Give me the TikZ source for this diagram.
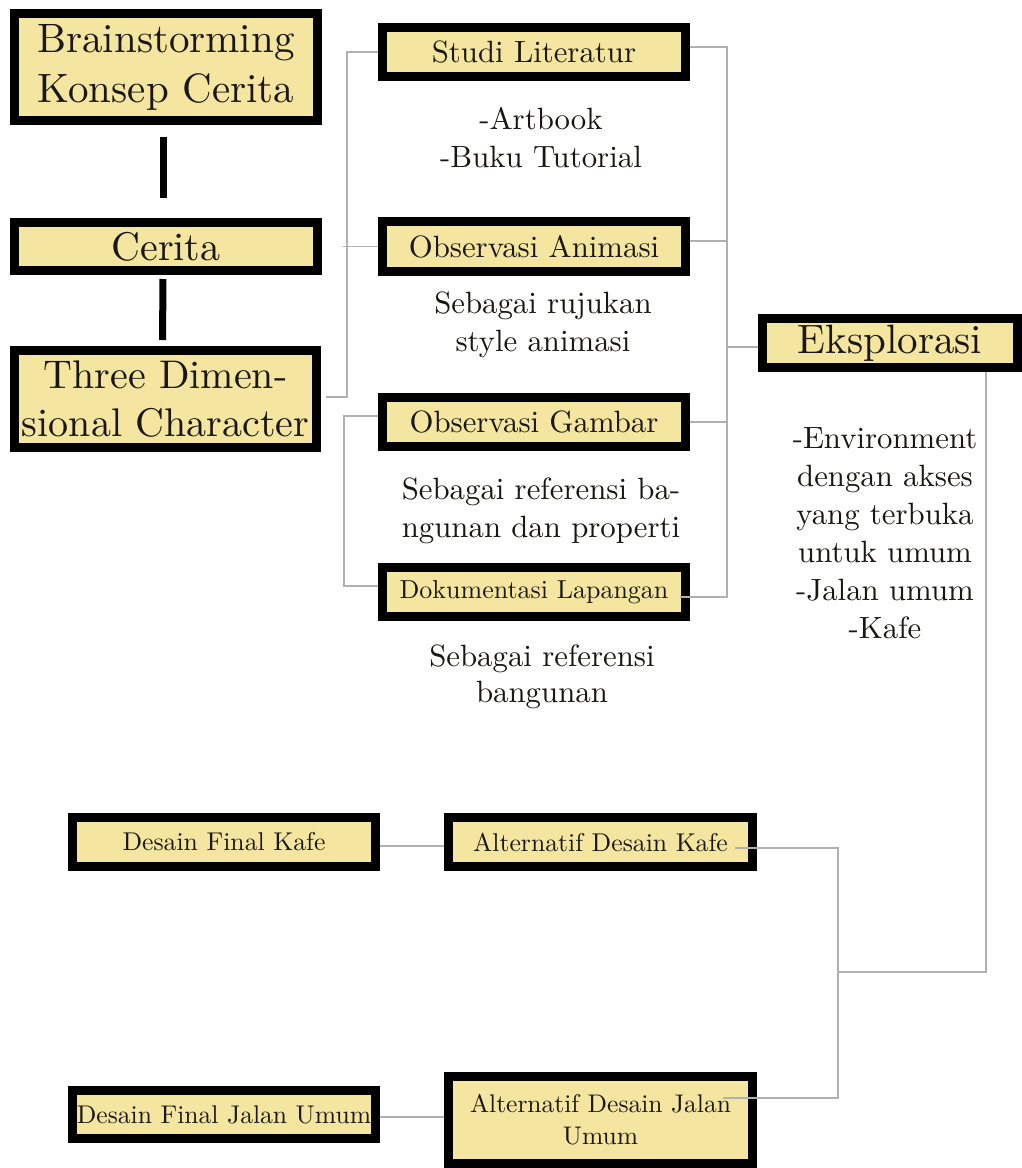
\documentclass[tikz,border=0pt]{standalone}
\usepackage{fontspec}
\setmainfont{lmroman10-regular.otf}
\usetikzlibrary{calc}
\definecolor{boxyellow}{HTML}{F4E6A0}
\definecolor{ink}{HTML}{1A1712}
\definecolor{linegray}{HTML}{B0B0B0}
\newcommand{\bigf}{\fontsize{40}{50}\selectfont}
\newcommand{\midf}{\fontsize{30.8}{38}\selectfont}
\newcommand{\smlf}{\fontsize{25.7}{32}\selectfont}
\tikzset{
  box/.style={draw=black, line width=9pt, fill=boxyellow, text=ink, inner sep=0pt,
              align=center, minimum width=303pt},
  conn/.style={draw=linegray, line width=1.1pt},
  bar/.style={draw=black, line width=7pt},
  note/.style={text=ink, align=center, inner sep=0pt, font=\midf}
}
\begin{document}
\begin{tikzpicture}[x=1pt,y=-1pt]
\useasboundingbox (0,0) rectangle (1022,1168);
\fill[white] (0,0) rectangle (1022,1168);

% left column
\node[box, minimum height=107pt, font=\fontsize{41}{50}\selectfont] (brain) at (166,67) {Brainstorming\\Konsep Cerita};
\node[box, minimum height=48pt, font=\bigf] (cerita) at (166,246.5) {Cerita};
\node[box, minimum width=302pt, minimum height=97pt, font=\fontsize{40}{48}\selectfont] (three) at (165.5,399) {Three Dimen-\\sional Character};

% middle column
\node[box, minimum height=49pt, font=\midf] (studi) at (534,52) {Studi Literatur};
\node[box, minimum height=50pt, font=\midf] (anim) at (534,246.5) {Observasi Animasi};
\node[box, minimum height=49pt, font=\midf] (gamb) at (534,422) {Observasi Gambar};
\node[box, minimum height=49pt, font=\fontsize{26}{32}\selectfont] (doku) at (534,592) {Dokumentasi Lapangan};

% notes
\node[note] (n1) at (541,138) {-Artbook\\-Buku Tutorial};
\node[note] (n2) at (543,325) {Sebagai rujukan\\style animasi};
\node[note] (n3) at (541,511) {Sebagai referensi ba-\\ngunan dan properti};
\node[note, font=\fontsize{30.8}{36}\selectfont] (n4) at (542,677) {Sebagai referensi\\bangunan};

% right
\node[box, minimum width=255pt, minimum height=49pt, font=\fontsize{41}{50}\selectfont] (ekspl) at (890,343) {Eksplorasi};
\node[note] (n5) at (885,533) {-Environment\\dengan akses\\yang terbuka\\untuk umum\\-Jalan umum\\-Kafe};

% bottom
\node[box, minimum height=49pt, font=\smlf] (finalk) at (224,842) {Desain Final Kafe};
\node[box, minimum width=304pt, minimum height=49pt, font=\smlf] (altk) at (600.5,842) {Alternatif Desain Kafe};
\node[box, minimum height=48pt, font=\fontsize{25.6}{32}\selectfont] (finalj) at (224,1114.5) {Desain Final Jalan Umum};
\node[box, minimum width=304pt, minimum height=87pt, font=\fontsize{25.5}{32}\selectfont] (altj) at (600.5,1120) {Alternatif Desain Jalan\\Umum};

% thick bars
\draw[bar, shorten <=12pt, shorten >=20pt] ([xshift=-3pt]brain.south) -- ([xshift=-3pt]cerita.north);
\draw[bar, shorten <=4pt, shorten >=6pt] ([xshift=-3pt]cerita.south) -- ([xshift=-3pt]three.north);

% helper coordinates
\coordinate (lb) at (347,0);
\coordinate (lb2) at (344,0);
\coordinate (rb) at (727,0);
\coordinate (join) at (838,972);

% left brackets
\draw[conn, shorten <=5pt] ([yshift=2pt]three.east) -- ([yshift=2pt]three.east -| lb) |- (studi.west);
\draw[conn] ($(anim.west -| lb)+(-4,0)$) -- (anim.west);
\draw[conn] ([yshift=6pt]gamb.west) -- ([yshift=6pt]gamb.west -| lb2) |- ([yshift=6pt]doku.west);

% right bracket
\draw[conn] ([yshift=5pt]studi.east) -- ([yshift=5pt]studi.east -| rb) -- ([yshift=-5pt]doku.east -| rb) -- ([xshift=-10pt,yshift=-5pt]doku.east);
\draw[conn] ([yshift=5.5pt]anim.east) -- ([yshift=5.5pt]anim.east -| rb);
\draw[conn] (gamb.east) -- (gamb.east -| rb);
\draw[conn] ([yshift=-4pt]ekspl.west -| rb) -- ([yshift=-4pt]ekspl.west);

% Eksplorasi down to bottom bracket
\draw[conn] ([xshift=96pt]ekspl.south) |- (join);
\draw[conn] ([xshift=-22pt,yshift=-6pt]altk.east) -- ([yshift=-6pt]altk.east -| join) -- ([yshift=22pt]altj.east -| join) -- ([xshift=-34pt,yshift=22pt]altj.east);

% final links
\draw[conn] ([yshift=-4pt]finalk.east) -- ([yshift=-4pt]finalk.east -| altk.west);
\draw[conn] ([yshift=-2.5pt]finalj.east) -- ([yshift=-2.5pt]finalj.east -| altj.west);
\end{tikzpicture}
\end{document}
